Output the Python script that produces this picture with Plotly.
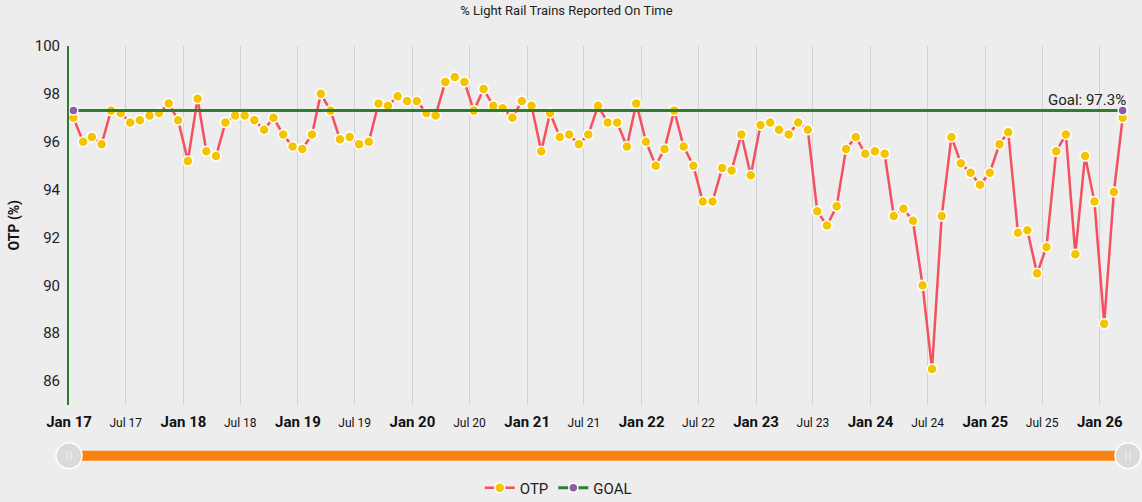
import plotly.graph_objects as go

# ---- data ----
start_year = 2017
otp = [
    97.0, 96.0, 96.2, 95.9, 97.3, 97.2, 96.8, 96.9, 97.1, 97.2, 97.6, 96.9,  # 2017
    95.2, 97.8, 95.6, 95.4, 96.8, 97.1, 97.1, 96.9, 96.5, 97.0, 96.3, 95.8,  # 2018
    95.7, 96.3, 98.0, 97.3, 96.1, 96.2, 95.9, 96.0, 97.6, 97.5, 97.9, 97.7,  # 2019
    97.7, 97.2, 97.1, 98.5, 98.7, 98.5, 97.3, 98.2, 97.5, 97.4, 97.0, 97.7,  # 2020
    97.5, 95.6, 97.2, 96.2, 96.3, 95.9, 96.3, 97.5, 96.8, 96.8, 95.8, 97.6,  # 2021
    96.0, 95.0, 95.7, 97.3, 95.8, 95.0, 93.5, 93.5, 94.9, 94.8, 96.3, 94.6,  # 2022
    96.7, 96.8, 96.5, 96.3, 96.8, 96.5, 93.1, 92.5, 93.3, 95.7, 96.2, 95.5,  # 2023
    95.6, 95.5, 92.9, 93.2, 92.7, 90.0, 86.5, 92.9, 96.2, 95.1, 94.7, 94.2,  # 2024
    94.7, 95.9, 96.4, 92.2, 92.3, 90.5, 91.6, 95.6, 96.3, 91.3, 95.4, 93.5,  # 2025
    88.4, 93.9, 97.0,                                                        # 2026
]
months = [f"{start_year + i // 12}-{i % 12 + 1:02d}-15" for i in range(len(otp))]
goal_value = 97.3
goal_x = [months[0], months[-1]]
goal_y = [goal_value, goal_value]

tick_vals = []
tick_text = []
for yr in range(2017, 2027):
    tick_vals.append(f"{yr}-01-01")
    tick_text.append(f"<b>Jan {yr % 100:02d}</b>")
    if yr < 2026:
        tick_vals.append(f"{yr}-07-01")
        tick_text.append(f"<span style='font-size:12px;'>Jul {yr % 100:02d}</span>")

y_ticks = [86, 88, 90, 92, 94, 96, 98, 100]

BG = "#ededed"
FONT = "Roboto, Arial, sans-serif"

fig = go.Figure()
fig.add_trace(go.Scatter(
    x=months, y=otp, name="OTP", mode="lines+markers",
    line=dict(color="#f5505e", width=2.5),
    marker=dict(color="#f5c400", size=10, line=dict(color="white", width=1.5)),
))
fig.add_trace(go.Scatter(
    x=goal_x, y=goal_y, name="GOAL", mode="lines+markers",
    line=dict(color="#2e7d32", width=3),
    marker=dict(color="#8e5b9e", size=9, line=dict(color="white", width=1.5)),
))

fig.add_annotation(
    x=goal_x[-1], y=goal_value, text=f"Goal: {goal_value}%", showarrow=False,
    xanchor="right", yanchor="middle", xshift=5, yshift=11,
    font=dict(size=15, color="#222222", family=FONT),
)
fig.add_annotation(
    x=0, y=0.5, xref="paper", yref="paper", xshift=-55, text="<b>OTP (%)</b>",
    textangle=-90, showarrow=False, xanchor="center", yanchor="middle",
    font=dict(size=14, color="#111111", family=FONT),
)

# range-slider style decoration
sy = -0.1412
shapes = [
    dict(type="line", xref="paper", yref="paper", x0=0, x1=1, y0=sy, y1=sy,
         line=dict(color="#f7820f", width=10), layer="above"),
]
for hx in (0, 1):
    shapes.append(dict(type="circle", xref="paper", yref="paper",
                       xsizemode="pixel", ysizemode="pixel", xanchor=hx, yanchor=sy,
                       x0=-13, x1=13, y0=-13, y1=13,
                       fillcolor="#dadada", line=dict(color="#ffffff", width=1.5), layer="above"))
    for dx in (-2, 2):
        shapes.append(dict(type="line", xref="paper", yref="paper",
                           xsizemode="pixel", ysizemode="pixel", xanchor=hx, yanchor=sy,
                           x0=dx, x1=dx, y0=-5, y1=5,
                           line=dict(color="#f2f2f2", width=1), layer="above"))

fig.update_layout(
    width=1142, height=502,
    paper_bgcolor=BG, plot_bgcolor=BG,
    margin=dict(l=69, r=14, t=46, b=97, autoexpand=False),
    font=dict(family=FONT, color="#222222"),
    title=dict(text="% Light Rail Trains Reported On Time", x=0.496, xanchor="center",
               y=0.979, yanchor="middle", font=dict(size=13, color="#222222", family=FONT)),
    xaxis=dict(
        type="date", range=["2017-01-01", "2026-04-01"],
        tickvals=tick_vals, ticktext=tick_text,
        tickfont=dict(size=15, color="#111111", family=FONT),
        showgrid=True, gridcolor="#d2d2d2", gridwidth=1,
        zeroline=False, showline=False, ticks="", ticklabelstandoff=6,
        automargin=False,
    ),
    yaxis=dict(
        range=[85, 100], tickvals=y_ticks,
        tickfont=dict(size=15, color="#222222", family=FONT),
        showgrid=False, zeroline=False,
        showline=True, linecolor="#2e7d32", linewidth=2,
        ticks="", ticklabelstandoff=4, automargin=False,
    ),
    legend=dict(orientation="h", x=0.462, xanchor="center",
                yref="container", y=0.028, yanchor="middle",
                font=dict(size=15, color="#222222", family=FONT), bgcolor="rgba(0,0,0,0)",
                itemwidth=30),
    shapes=shapes,
    showlegend=True,
)

fig.write_html(
    "out.html",
    config={"displayModeBar": False},
    post_script="document.body.style.margin='0';document.body.style.background='#ededed';",
)
